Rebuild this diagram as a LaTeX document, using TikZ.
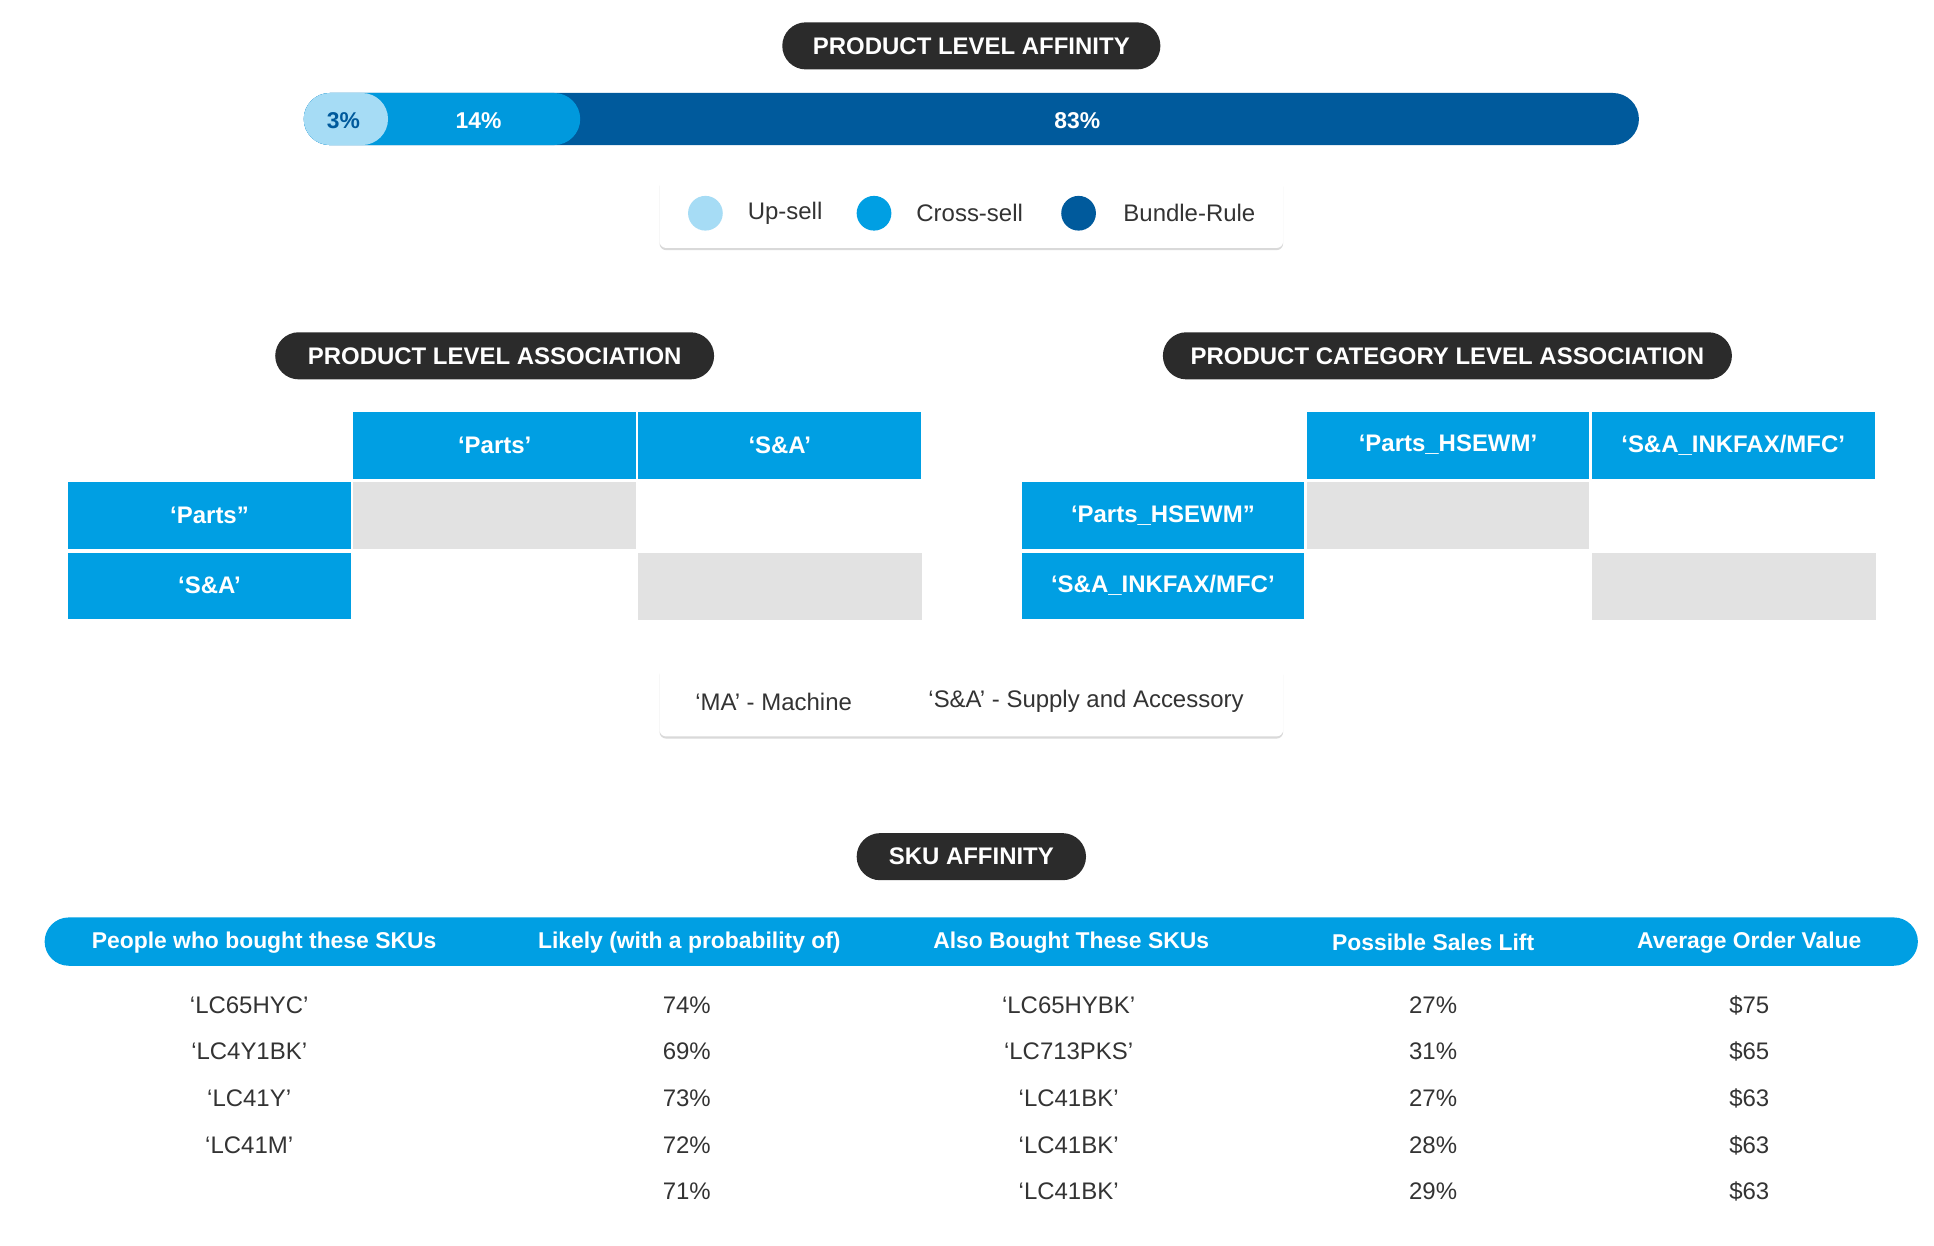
\documentclass[tikz,border=0pt]{standalone}
\usepackage{fontspec}
\setmainfont{Liberation Sans}
\usetikzlibrary{shadows}
\definecolor{pill}{HTML}{2B2B2B}
\definecolor{cblue}{HTML}{009FE3}
\definecolor{dblue}{HTML}{005A9C}
\definecolor{lblue}{HTML}{A6DCF5}
\definecolor{mblue}{HTML}{0099DD}
\definecolor{gcell}{HTML}{E2E2E2}
\definecolor{txt}{HTML}{333333}
\begin{document}
\begin{tikzpicture}[x=0.02cm,y=-0.02cm,
 pilltxt/.style={text=white,font=\fontsize{11}{13}\selectfont\bfseries},
 cell/.style={fill=cblue,text=white,font=\fontsize{11}{13}\selectfont\bfseries},
 body/.style={text=txt,font=\fontsize{11}{13}\selectfont},
 lbox/.style={fill=white,drop shadow={shadow xshift=0pt,shadow yshift=-1pt,opacity=0.15,fill=black}}]
\useasboundingbox (0,0) rectangle (1560,1005);
% pills
\newcommand{\pillat}[6]{\fill[pill,rounded corners=19*0.02cm] (#1,#2) rectangle (#3,#4);
 \node[pilltxt] (#6) at ({(#1+#3)/2},{(#2+#4)/2}) {#5};}
\pillat{631}{18}{936}{56}{PRODUCT LEVEL AFFINITY}{p1}
\pillat{222}{268}{576}{306}{PRODUCT LEVEL ASSOCIATION}{p2}
\pillat{938}{268}{1397}{306}{PRODUCT CATEGORY LEVEL ASSOCIATION}{p3}
\pillat{691}{672}{876}{710}{SKU AFFINITY}{p4}
% bar
\fill[dblue,rounded corners=21*0.02cm] (245,75) rectangle (1322,117);
\fill[mblue,rounded corners=21*0.02cm] (245,75) rectangle (468,117);
\fill[lblue,rounded corners=21*0.02cm] (245,75) rectangle (313,117);
\node[text=dblue,font=\fontsize{10.5}{12}\selectfont\bfseries] (b1) at (277,97) {3\%};
\node[text=white,font=\fontsize{10.5}{12}\selectfont\bfseries] (b2) at (386,97) {14\%};
\node[text=white,font=\fontsize{10.5}{12}\selectfont\bfseries] (b3) at (869,97) {83\%};
% legend 1
\fill[lbox,rounded corners=3pt] (532,144) rectangle (1035,200);
\fill[lblue] (569,172) circle (14);
\fill[cblue] (705,172) circle (14);
\fill[dblue] (870,172) circle (14);
\node[body,anchor=west] (l1) at (597,172) {Up-sell};
\node[body,anchor=west] (l2) at (733,172) {Cross-sell};
\node[body,anchor=west] (l3) at (900,172) {Bundle-Rule};
% tables
\newcommand{\cellat}[5]{\fill[#5] (#1,#2) rectangle ++(229,55);}
% left
\fill[cblue] (285,332) rectangle (513,386); \node[cell] (h1) at (399,359) {‘Parts’};
\fill[cblue] (515,332) rectangle (743,386); \node[cell] (h2) at (629,359) {‘S\&A’};
\fill[cblue] (55,389) rectangle (283,443); \node[cell] (r1) at (169,416) {‘Parts”};
\fill[cblue] (55,446) rectangle (283,499); \node[cell] (r2) at (169,472) {‘S\&A’};
\fill[gcell] (285,389) rectangle (513,443);
\fill[gcell] (515,446) rectangle (744,500);
% right
\fill[cblue] (1054,332) rectangle (1282,386); \node[cell] (h3) at (1168,359) {‘Parts\_HSEWM’};
\fill[cblue] (1284,332) rectangle (1512,386); \node[cell] (h4) at (1398,359) {‘S\&A\_INKFAX/MFC’};
\fill[cblue] (824,389) rectangle (1052,443); \node[cell] (r3) at (938,416) {‘Parts\_HSEWM”};
\fill[cblue] (824,446) rectangle (1052,499); \node[cell] (r4) at (938,472) {‘S\&A\_INKFAX/MFC’};
\fill[gcell] (1054,389) rectangle (1282,443);
\fill[gcell] (1284,446) rectangle (1513,500);
% legend 2
\fill[lbox,rounded corners=3pt] (532,538) rectangle (1035,594);
\node[body] (m1) at (624,566) {‘MA’ - Machine};
\node[body] (m2) at (876,566) {‘S\&A’ - Supply and Accessory};
% SKU table
\fill[cblue,rounded corners=19.5*0.02cm] (36,740) rectangle (1547,779);
\foreach \x/\t [count=\i] in {213/People who bought these SKUs,556/Likely (with a probability of),864/Also Bought These SKUs,1156/Possible Sales Lift,1411/Average Order Value}
 \node[text=white,font=\fontsize{10.5}{12}\selectfont\bfseries] (c\i) at (\x,760) {\t};
\foreach \y/\a/\b/\c/\d/\e [count=\i] in {811/‘LC65HYC’/74\%/‘LC65HYBK’/27\%/\$75,848/‘LC4Y1BK’/69\%/‘LC713PKS’/31\%/\$65,886/‘LC41Y’/73\%/‘LC41BK’/27\%/\$63,924/‘LC41M’/72\%/‘LC41BK’/28\%/\$63,961//71\%/‘LC41BK’/29\%/\$63}{
 \node[body] (a\i) at (201,\y) {\a};
 \node[body] (p\i) at (554,\y) {\b};
 \node[body] (s\i) at (862,\y) {\c};
 \node[body] (q\i) at (1156,\y) {\d};
 \node[body] (v\i) at (1411,\y) {\e};}
\end{tikzpicture}
\end{document}
